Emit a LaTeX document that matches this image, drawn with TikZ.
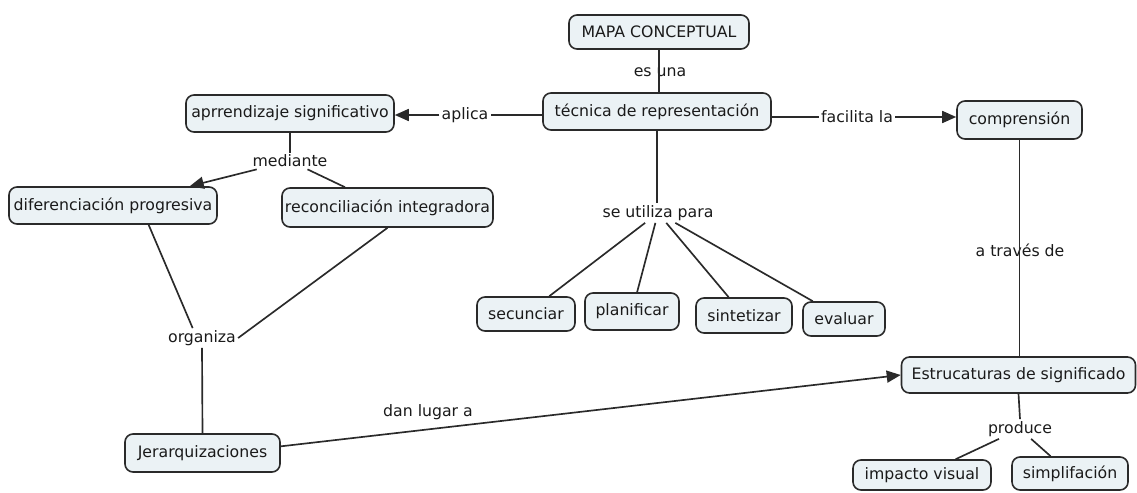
\documentclass[tikz,border=0pt]{standalone}
\usepackage{fontspec}
\setmainfont{DejaVu Sans}
\usetikzlibrary{arrows.meta,calc}
\definecolor{boxfill}{HTML}{EBF2F5}
\definecolor{boxdraw}{HTML}{2A2A2A}
\definecolor{txt}{HTML}{1A1A1A}
\tikzset{
  concept/.style={draw=boxdraw, fill=boxfill, line width=1.2pt, rounded corners=6pt,
    text=txt, font=\fontsize{11.8}{14}\selectfont, inner sep=0pt, align=center},
  lab/.style={text=txt, font=\fontsize{11.8}{14}\selectfont, inner sep=1.5pt},
  conn/.style={draw=boxdraw, line width=1.25pt},
  arr/.style={conn, -{Triangle[length=10.5pt,width=9pt]}}
}
\begin{document}
\begin{tikzpicture}[x=0.75pt,y=-0.75pt]
\useasboundingbox (0,0) rectangle (1137,492);
% concepts
\node[concept, minimum width=135pt, minimum height=25.5pt] (mapa) at (659,32) {MAPA CONCEPTUAL};
\node[concept, minimum width=171pt, minimum height=27.75pt] (tecnica) at (657,111.5) {técnica de representación};
\node[concept, minimum width=156pt, minimum height=27.75pt] (aprr) at (290,113.5) {aprrendizaje significativo};
\node[concept, minimum width=156pt, minimum height=27.75pt] (dif) at (113,205.5) {diferenciación progresiva};
\node[concept, minimum width=158.25pt, minimum height=29.25pt] (rec) at (387.5,207.5) {reconciliación integradora};
\node[concept, minimum width=73.5pt, minimum height=25.5pt] (sec) at (526,314) {secunciar};
\node[concept, minimum width=70.5pt, minimum height=27.75pt] (plan) at (632,311.5) {planificar};
\node[concept, minimum width=72pt, minimum height=26.25pt] (sint) at (744,315.5) {sintetizar};
\node[concept, minimum width=61.5pt, minimum height=25.5pt] (eval) at (844,319) {evaluar};
\node[concept, minimum width=93.75pt, minimum height=28.5pt] (comp) at (1019.5,120) {comprensión};
\node[concept, minimum width=175.5pt, minimum height=27pt] (estr) at (1018.5,375) {Estrucaturas de significado};
\node[concept, minimum width=103.5pt, minimum height=22.5pt] (imp) at (922,475) {impacto visual};
\node[concept, minimum width=87pt, minimum height=24.75pt] (simp) at (1070,473.5) {simplifación};
\node[concept, minimum width=116.25pt, minimum height=28.5pt] (jer) at (202.5,453) {Jerarquizaciones};
% linking phrases
\node[lab] (esuna) at (660,72) {es una};
\node[lab] (aplica) at (465,115) {aplica};
\node[lab] (facilita) at (857,117) {facilita la};
\node[lab] (mediante) at (290,161) {mediante};
\node[lab] (utiliza) at (658,213) {se utiliza para};
\node[lab] (traves) at (1020,250) {a través de};
\node[lab] (organiza) at (202,338) {organiza};
\node[lab] (dan) at (428,412) {dan lugar a};
\node[lab] (produce) at (1020,429) {produce};
% connectors
\draw[conn] (mapa.south) -- (mapa.south |- tecnica.north);
\draw[conn] (aplica.east -| tecnica.west) -- (aplica.east);
\draw[arr] (aplica.west) -- (aplica.west -| aprr.east);
\draw[conn] (facilita.west -| tecnica.east) -- (facilita.west);
\draw[arr] (facilita.east) -- (facilita.east -| comp.west);
\draw[conn] (aprr.south) -- (mediante.north);
\draw[arr] (mediante) -- (dif);
\draw[conn] (mediante) -- (rec);
\draw[conn] (tecnica.south) -- (tecnica.south |- utiliza.north);
\draw[conn] (utiliza) -- (sec);
\draw[conn] (utiliza) -- (plan);
\draw[conn] (utiliza) -- (sint);
\draw[conn] (utiliza) -- (eval);
\draw[conn] (comp.south) -- (comp.south |- estr.north);
\draw[conn] (estr.south) -- (produce.north);
\draw[conn] (produce) -- (imp);
\draw[conn] (produce) -- (simp);
\draw[conn] ($(dif.south)!0.34!(dif.south east)$) -- ([xshift=-7pt]organiza.north);
\draw[conn] (rec.south) -- (organiza.east);
\draw[conn] (organiza.south) -- (jer.north);
\draw[arr] ([yshift=5pt]jer.east) -- (estr.west);
\end{tikzpicture}
\end{document}
